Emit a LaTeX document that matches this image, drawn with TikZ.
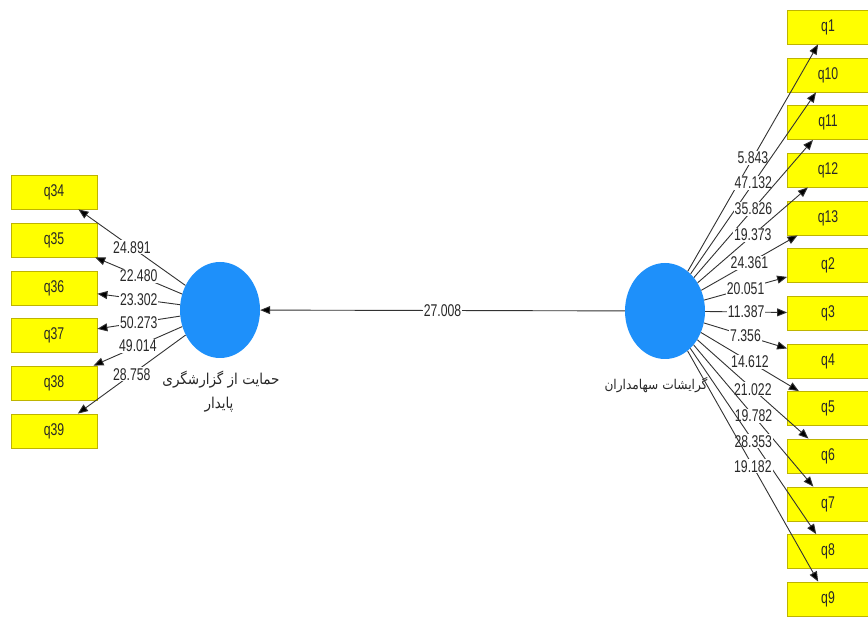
\documentclass[tikz,border=0pt]{standalone}
\usepackage{fontspec}
\setmainfont[FakeStretch=0.72]{Liberation Sans}
\newfontfamily\fa[Script=Arabic,FakeStretch=0.9]{DejaVu Sans}
\TeXXeTstate=1
\usetikzlibrary{arrows.meta,shapes.geometric}
\definecolor{lvblue}{RGB}{30,144,250}
\definecolor{boxborder}{RGB}{190,180,0}
\definecolor{boxfill}{RGB}{255,255,0}
\definecolor{lc}{RGB}{50,50,50}
\definecolor{txt}{RGB}{40,40,40}
\tikzset{
  box/.style={draw=boxborder, fill=boxfill, line width=0.8pt, minimum width=86pt, minimum height=34pt, inner sep=0pt, font=\fontsize{17}{17}\selectfont, text=txt},
  rbox/.style={box, minimum width=81pt},
  lv/.style={ellipse, fill=lvblue, minimum width=80pt, minimum height=96pt, inner sep=0pt},
  lbl/.style={fill=white, inner sep=1pt, font=\fontsize{17}{17}\selectfont, text=txt},
  ar/.style={draw=lc, line width=0.9pt, -{Triangle[length=10pt,width=8pt,fill=black]}},
  fatext/.style={font=\fa\fontsize{15}{15}\selectfont, text=txt, inner sep=0pt},
  fatextsmall/.style={fatext, font=\fa\fontsize{13.5}{13.5}\selectfont}
}
\begin{document}
\begin{tikzpicture}[x=1pt,y=-1pt]
\useasboundingbox (0,0) rectangle (868,617);
\clip (0,0) rectangle (868,617);
\fill[white] (0,0) rectangle (868,617);
% latent variables
\node[lv] (c1) at (220,310) {};
\node[lv] (c2) at (665,311) {};
\node[fatext] (t1a) at (221,380) {\beginR حمایت از گزارشگری\endR};
\node[fatext] (t1b) at (219,405) {\beginR پایدار\endR};
\node[fatextsmall] (t2) at (656,385) {\beginR گرایشات سهامداران\endR};
% left indicators
\node[box] (q34) at (54,192) {q34};
\node[box] (q35) at (54,240) {q35};
\node[box] (q36) at (54,288) {q36};
\node[box] (q37) at (54,335.5) {q37};
\node[box] (q38) at (54,383) {q38};
\node[box] (q39) at (54,431) {q39};
% right indicators
\node[rbox] (q1) at (828,27) {q1};
\node[rbox] (q10) at (828,75) {q10};
\node[rbox] (q11) at (828,122.5) {q11};
\node[rbox] (q12) at (828,170) {q12};
\node[rbox] (q13) at (828,218) {q13};
\node[rbox] (q2) at (828,265.5) {q2};
\node[rbox] (q3) at (828,313) {q3};
\node[rbox] (q4) at (828,361) {q4};
\node[rbox] (q5) at (828,408.5) {q5};
\node[rbox] (q6) at (828,456) {q6};
\node[rbox] (q7) at (828,504) {q7};
\node[rbox] (q8) at (828,551.5) {q8};
\node[rbox] (q9) at (828,599) {q9};
% structural path
\draw[ar] (c2) -- (c1) node[lbl, midway] (p0) {27.008};
% left loadings
\draw[ar] (c1) -- (q34) node[lbl, midway] (l34) {24.891};
\draw[ar] (c1) -- (q35) node[lbl, midway] (l35) {22.480};
\draw[ar] (c1) -- (q36) node[lbl, midway] (l36) {23.302};
\draw[ar] (c1) -- (q37) node[lbl, midway] (l37) {50.273};
\draw[ar] (c1) -- (q38) node[lbl, midway] (l38) {49.014};
\draw[ar] (c1) -- (q39) node[lbl, midway] (l39) {28.758};
% right loadings
\draw[ar] (c2) -- (q1) node[lbl, midway] (l1) {5.843};
\draw[ar] (c2) -- (q10) node[lbl, midway] (l10) {47.132};
\draw[ar] (c2) -- (q11) node[lbl, midway] (l11) {35.826};
\draw[ar] (c2) -- (q12) node[lbl, midway] (l12) {19.373};
\draw[ar] (c2) -- (q13) node[lbl, midway] (l13) {24.361};
\draw[ar] (c2) -- (q2) node[lbl, midway] (l2) {20.051};
\draw[ar] (c2) -- (q3) node[lbl, midway] (l3) {11.387};
\draw[ar] (c2) -- (q4) node[lbl, midway] (l4) {7.356};
\draw[ar] (c2) -- (q5) node[lbl, midway] (l5) {14.612};
\draw[ar] (c2) -- (q6) node[lbl, midway] (l6) {21.022};
\draw[ar] (c2) -- (q7) node[lbl, midway] (l7) {19.782};
\draw[ar] (c2) -- (q8) node[lbl, midway] (l8) {28.353};
\draw[ar] (c2) -- (q9) node[lbl, midway] (l9) {19.182};
\end{tikzpicture}
\end{document}
